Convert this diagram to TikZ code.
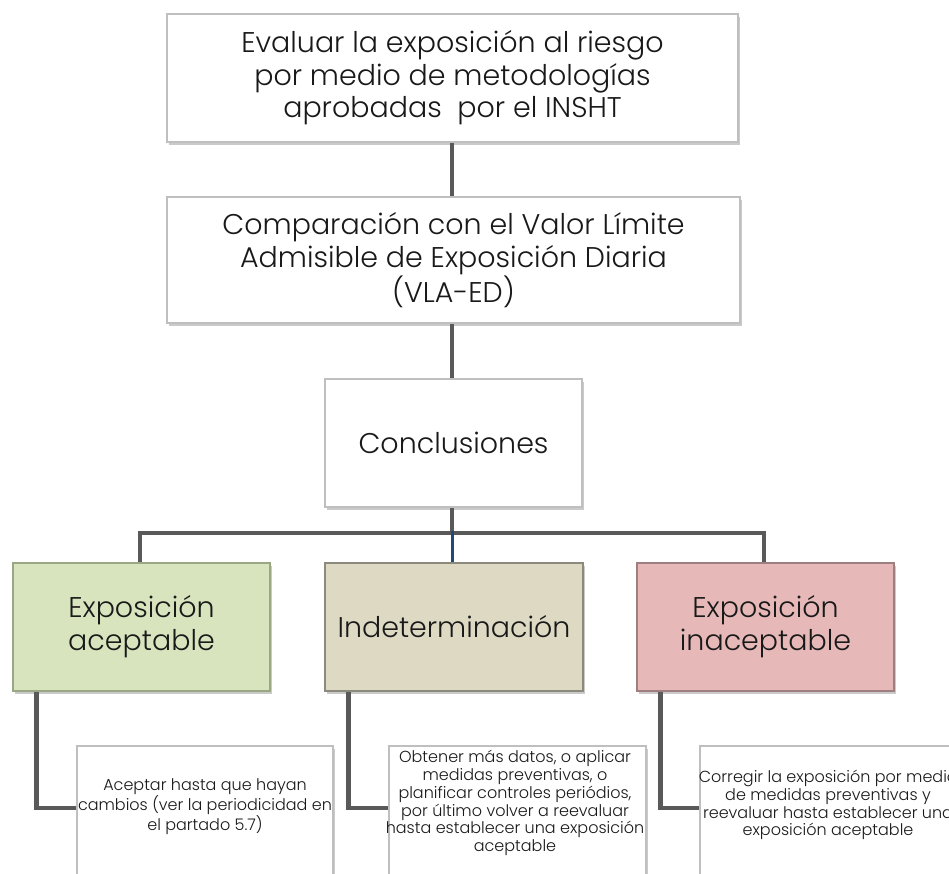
\documentclass[tikz,border=0pt]{standalone}
\usepackage{fontspec}
\setmainfont{Poppins}[UprightFont=* Light]
\usetikzlibrary{shadows}
\definecolor{lineg}{HTML}{595959}
\definecolor{lineb}{HTML}{1F497D}
\definecolor{greenf}{HTML}{D7E4BD}
\definecolor{greend}{HTML}{9AA784}
\definecolor{tanf}{HTML}{DDD9C3}
\definecolor{tand}{HTML}{8C8A7C}
\definecolor{redf}{HTML}{E6B9B8}
\definecolor{redd}{HTML}{9E7E7E}
\definecolor{boxd}{HTML}{BFBFBF}
\tikzset{
  shd/.style={drop shadow={shadow xshift=1.5pt,shadow yshift=-2.5pt,opacity=0.35,fill=black!60}},
  whitebox/.style={draw=boxd,line width=1.5pt,fill=white,shd,align=center,inner sep=0pt,text=black!90},
  greenbox/.style={whitebox,draw=greend,fill=greenf},
  tanbox/.style={whitebox,draw=tand,fill=tanf},
  redbox/.style={whitebox,draw=redd,fill=redf},
  txtbox/.style={draw=boxd,line width=1.2pt,fill=white,shd,inner sep=0pt},
  bigtxt/.style={font=\fontsize{28.5}{32.5}\selectfont},
  midtxt/.style={font=\fontsize{28.5}{33}\selectfont},
  smalltxt/.style={font=\fontsize{16}{17.8}\selectfont,align=center,text=black!90},
  conn/.style={draw=lineg,line width=4.5pt},
  bconn/.style={draw=lineb,line width=3pt}
}
\begin{document}
\begin{tikzpicture}[x=1pt,y=-1pt]
\useasboundingbox (0,0) rectangle (949,873);
\clip (0,0) rectangle (949,873);
% top boxes
\node[whitebox,bigtxt,minimum width=571pt,minimum height=128pt] (eval) at (452.5,78)
  {Evaluar la exposición al riesgo\\por medio de metodologías\\aprobadas \ por el INSHT};
\node[whitebox,bigtxt,minimum width=573pt,minimum height=126pt] (comp) at (453.5,260)
  {Comparación con el Valor Límite\\Admisible de Exposición Diaria\\(VLA-ED)};
\node[whitebox,bigtxt,minimum width=257pt,minimum height=128pt] (concl) at (453.5,443)
  {Conclusiones};
% level boxes
\node[greenbox,midtxt,minimum width=257pt,minimum height=128pt] (acep) at (141.5,627)
  {Exposición\\aceptable};
\node[tanbox,midtxt,minimum width=258pt,minimum height=128pt] (indet) at (454,627)
  {Indeterminación};
\node[redbox,midtxt,minimum width=257pt,minimum height=128pt] (inac) at (765.5,627)
  {Exposición\\inaceptable};
% text boxes
\node[txtbox,minimum width=256pt,minimum height=130pt] (t1) at (205,811) {};
\node[txtbox,minimum width=257pt,minimum height=130pt] (t2) at (517.5,811) {};
\node[txtbox,minimum width=257pt,minimum height=130pt] (t3) at (828.5,811) {};
\node[smalltxt] (t1txt) at (205,807) {Aceptar hasta que hayan\\cambios (ver la periodicidad en\\el partado 5.7)};
\node[smalltxt] (t2txt) at (515,803) {Obtener más datos, o aplicar\\medidas preventivas, o\\planificar controles periódios,\\por último volver a reevaluar\\hasta establecer una exposición\\aceptable};
\node[smalltxt] (t3txt) at (828,805) {Corregir la exposición por medio\\de medidas preventivas y\\reevaluar hasta establecer una\\exposición aceptable};
% connectors
\coordinate (bar) at (452,533);
\draw[conn] (eval.south -| bar) -- (comp.north -| bar);
\draw[conn] (comp.south -| bar) -- (concl.north -| bar);
\draw[conn] (concl.south -| bar) -- (bar);
\draw[conn] (acep.north -| 140,0) |- (bar) -| (inac.north -| 764,0);
\draw[bconn] ([yshift=2.2pt]bar) -- (indet.north -| bar);
\draw[conn] ([xshift=24pt]acep.south west) |- (t1.west |- 0,808);
\draw[conn] ([xshift=24pt]indet.south west) |- (t2.west |- 0,808);
\draw[conn] ([xshift=24pt]inac.south west) |- (t3.west |- 0,808);
\end{tikzpicture}
\end{document}
